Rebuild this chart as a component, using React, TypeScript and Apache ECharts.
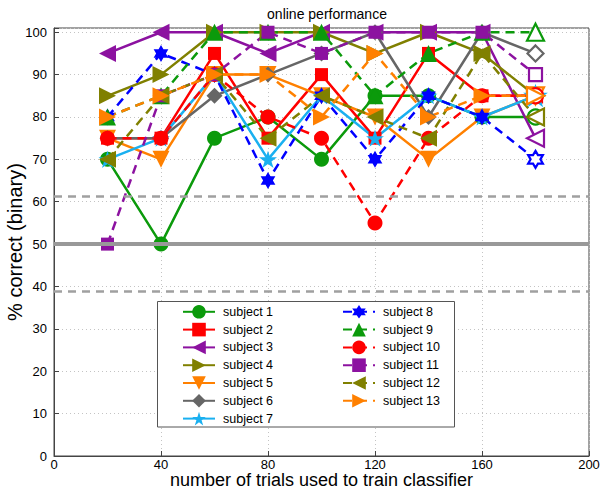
import React, { useEffect, useRef } from 'react';
import * as echarts from 'echarts';

// ---- data ----
const trials = [20, 40, 60, 80, 100, 120, 140, 160, 180];
const subject1 = [70, 50, 75, 80, 70, 85, 85, 80, 80];
const subject2 = [75, 75, 95, 75, 90, 75, 95, 85, 85];
const subject3 = [95, 100, 100, 95, 100, 100, 100, 100, 75];
const subject4 = [85, 90, 100, 100, 100, 95, 100, 95, 85];
const subject5 = [75, 70, 90, 90, 85, 80, 70, 80, 85];
const subject6 = [75, 75, 85, 90, 95, 100, 80, 100, 95];
const subject7 = [70, 75, 90, 70, 85, 75, 85, 80, 85];
const subject8 = [80, 95, 90, 65, 85, 70, 85, 80, 70];
const subject9 = [80, 85, 100, 100, 100, 85, 95, 100, 100];
const subject10 = [75, 75, 90, 80, 75, 55, 75, 85, 85];
const subject11 = [50, 85, 90, 100, 95, 100, 100, 100, 90];
const subject12 = [70, 85, 90, 75, 85, 80, 75, 95, 80];
const subject13 = [80, 85, 90, 90, 80, 95, 80, 85, 85];
const subjectValues = [
  subject1, subject2, subject3, subject4, subject5, subject6, subject7,
  subject8, subject9, subject10, subject11, subject12, subject13,
];
const subjectNames = [
  'subject 1', 'subject 2', 'subject 3', 'subject 4', 'subject 5', 'subject 6', 'subject 7',
  'subject 8', 'subject 9', 'subject 10', 'subject 11', 'subject 12', 'subject 13',
];
const chanceLevel = 50;
const significanceBounds = [61.2, 38.8];

// ---- styles ----
function starPath(points: number, inner: number): string {
  const pts: string[] = [];
  for (let i = 0; i < points * 2; i++) {
    const a = (-90 + (i * 180) / points) * (Math.PI / 180);
    const r = i % 2 === 0 ? 50 : 50 * inner;
    pts.push(`${(50 + r * Math.cos(a)).toFixed(2)} ${(50 + r * Math.sin(a)).toFixed(2)}`);
  }
  return 'path://M' + pts.join(' L') + ' Z';
}
const PENTAGRAM = starPath(5, 0.382);
const HEXAGRAM = starPath(6, 0.577);

const GREEN = '#0b9a0b';
const RED = '#ff0000';
const PURPLE = '#8c12a0';
const OLIVE = '#808000';
const ORANGE = '#ff8000';
const GRAY = '#666666';
const LIGHTBLUE = '#1ab0f0';
const BLUE = '#0000ff';

const styles = [
  { color: GREEN, symbol: 'circle', rotate: 0, size: 15, dashed: false },
  { color: RED, symbol: 'rect', rotate: 0, size: 13, dashed: false },
  { color: PURPLE, symbol: 'triangle', rotate: 90, size: 17, dashed: false },
  { color: OLIVE, symbol: 'triangle', rotate: -90, size: 17, dashed: false },
  { color: ORANGE, symbol: 'triangle', rotate: 180, size: 17, dashed: false },
  { color: GRAY, symbol: 'diamond', rotate: 0, size: 16, dashed: false },
  { color: LIGHTBLUE, symbol: PENTAGRAM, rotate: 0, size: 18, dashed: false },
  { color: BLUE, symbol: HEXAGRAM, rotate: 0, size: 17, dashed: true },
  { color: GREEN, symbol: 'triangle', rotate: 0, size: 17, dashed: true },
  { color: RED, symbol: 'circle', rotate: 0, size: 15, dashed: true },
  { color: PURPLE, symbol: 'rect', rotate: 0, size: 13, dashed: true },
  { color: OLIVE, symbol: 'triangle', rotate: 90, size: 17, dashed: true },
  { color: ORANGE, symbol: 'triangle', rotate: -90, size: 17, dashed: true },
];

const FONT = '"Liberation Sans", Arial, Helvetica, sans-serif';

export default function App() {
  const ref = useRef<HTMLDivElement>(null);

  useEffect(() => {
    document.body.style.margin = '0';
    if (!ref.current) return;
    const chart = echarts.init(ref.current, undefined, { renderer: 'svg' });

    const subjectSeries = subjectValues.map((vals, si) => {
      const st = styles[si];
      return {
        name: subjectNames[si],
        type: 'line',
        z: 3,
        symbol: st.symbol,
        symbolSize: st.size,
        symbolRotate: st.rotate,
        symbolKeepAspect: true,
        showAllSymbol: true,
        lineStyle: { color: st.color, width: 2.5, type: st.dashed ? [9, 6] : 'solid' },
        itemStyle: { color: st.color },
        emphasis: { disabled: true },
        data: vals.map((v, i) =>
          i === vals.length - 1
            ? { value: [trials[i], v], itemStyle: { color: '#ffffff', borderColor: st.color, borderWidth: 2.2 } }
            : { value: [trials[i], v] }
        ),
      };
    });

    const refSeries = {
      name: 'reference',
      type: 'line',
      z: 1,
      data: [],
      markLine: {
        silent: true,
        symbol: 'none',
        label: { show: false },
        animation: false,
        data: [
          { yAxis: chanceLevel, lineStyle: { color: '#999999', width: 4, type: 'solid' } },
          { yAxis: significanceBounds[0], lineStyle: { color: '#a0a0a0', width: 2.5, type: [8, 6] } },
          { yAxis: significanceBounds[1], lineStyle: { color: '#a0a0a0', width: 2.5, type: [8, 6] } },
        ],
      },
    };

    const legendCommon = {
      orient: 'vertical',
      itemWidth: 32,
      itemHeight: 17,
      itemGap: 4.2,
      padding: 0,
      selectedMode: false,
      textStyle: { fontFamily: FONT, fontSize: 12.5, color: '#000', padding: [0, 0, 0, 3] },
      z: 5,
    };

    chart.setOption({
      animation: false,
      textStyle: { fontFamily: FONT },
      title: {
        text: 'online performance',
        left: 322,
        textAlign: 'center',
        top: 2,
        textStyle: { fontFamily: FONT, fontSize: 14, fontWeight: 'normal', color: '#000' },
      },
      grid: {
        left: 54,
        right: 11,
        top: 28,
        bottom: 35,
        show: true,
        borderColor: '#444',
        borderWidth: 1,
        backgroundColor: '#fff',
        outerBoundsMode: 'none',
        containLabel: false,
      },
      legend: [
        { ...legendCommon, left: 182, top: 305, data: subjectNames.slice(0, 7) },
        { ...legendCommon, left: 342, top: 305, data: subjectNames.slice(7) },
      ],
      graphic: [
        {
          type: 'rect',
          z: 4,
          shape: { x: 157.5, y: 301.5, width: 297, height: 125.5 },
          style: { fill: '#fff', stroke: '#555', lineWidth: 1 },
        },
      ],
      xAxis: {
        type: 'value',
        min: 0,
        max: 200,
        interval: 40,
        name: 'number of trials used to train classifier',
        nameLocation: 'middle',
        nameGap: 16,
        nameMoveOverlap: false,
        nameTextStyle: { fontFamily: FONT, fontSize: 18, lineHeight: 16, color: '#000' },
        axisLine: { show: true, lineStyle: { color: '#444', width: 1 } },
        axisTick: { show: true, inside: true, length: 5, lineStyle: { color: '#444' } },
        axisLabel: { fontFamily: FONT, fontSize: 13, lineHeight: 13, color: '#000', margin: 2 },
        splitLine: { show: true, lineStyle: { color: '#c4c4c4', type: [1, 3], width: 1 } },
      },
      yAxis: {
        type: 'value',
        min: 0,
        max: 101,
        interval: 10,
        name: '% correct (binary)',
        nameLocation: 'middle',
        nameGap: 29,
        nameMoveOverlap: false,
        nameTextStyle: { fontFamily: FONT, fontSize: 20, lineHeight: 20, color: '#000' },
        axisLine: { show: true, lineStyle: { color: '#444', width: 1 } },
        axisTick: { show: true, inside: true, length: 5, lineStyle: { color: '#444' } },
        axisLabel: {
          fontFamily: FONT,
          fontSize: 13,
          color: '#000',
          margin: 7,
          formatter: (v: number) => (v % 10 === 0 ? String(v) : ''),
        },
        splitLine: { show: true, lineStyle: { color: '#c4c4c4', type: [1, 3], width: 1 } },
      },
      series: [refSeries, ...subjectSeries],
    });

    return () => chart.dispose();
  }, []);

  return <div ref={ref} style={{ width: 600, height: 491 }} />;
}
